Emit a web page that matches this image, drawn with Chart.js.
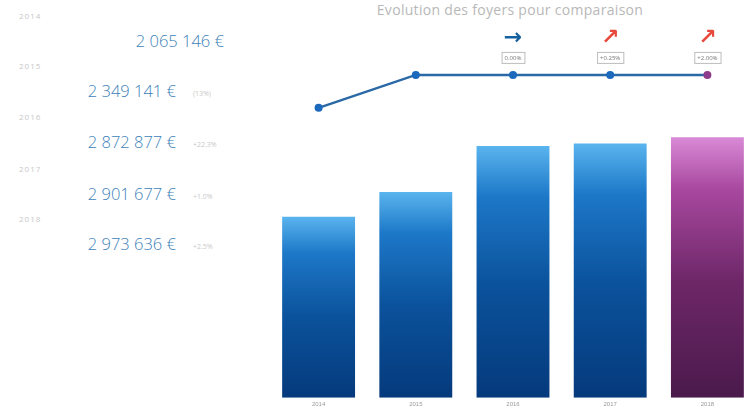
<!DOCTYPE html>
<html>
<head>
<meta charset="utf-8">
<script src="https://cdn.jsdelivr.net/npm/chart.js@4.4.1/dist/chart.umd.min.js"></script>
<style>
  html, body { margin: 0; padding: 0; background: #fff; width: 747px; height: 417px; overflow: hidden; }
  #side { position: absolute; left: 0; top: 0; width: 250px; height: 417px; font-family: "Open Sans", sans-serif; }
  .yr { position: absolute; left: 19px; font-size: 8px; color: #c8c8c8; letter-spacing: 1px; }
  .amt { position: absolute; font-size: 16.5px; font-weight: 300; color: #3d7fb8; white-space: nowrap; }
  .pct { position: absolute; left: 193px; font-size: 7px; color: #c8c8c8; }
  #title { position: absolute; left: 300px; width: 420px; top: 0px; text-align: center; font-family: "Open Sans", sans-serif; font-size: 14px; color: #b8b8b8; letter-spacing: 0.3px; }
  #wrap { position: absolute; left: 262px; top: 0; width: 500px; height: 417px; }
</style>
</head>
<body>
<div id="side"></div>
<div id="title">Evolution des foyers pour comparaison</div>
<div id="wrap"><canvas id="chart" width="500" height="417"></canvas></div>
<script>
// montants annuels et evolution des foyers
const years = ['2014', '2015', '2016', '2017', '2018'];
const montants = [2065146, 2349141, 2872877, 2901677, 2973636];
const montantLabels = ['2 065 146 €', '2 349 141 €', '2 872 877 €', '2 901 677 €', '2 973 636 €'];
const montantEvol = ['', '(13%)', '+22.3%', '+1.0%', '+2.5%'];
const foyers = [898, 1000, 1000, 1000, 1000];
const foyersEvol = ['', '', '0.00%', '+0.25%', '+2.00%'];
const foyersArrows = ['', '', '→', '↗', '↗'];

// left column: year, amount, change
const side = document.getElementById('side');
const rowTops = [10, 60, 111, 163, 213];
years.forEach((y, i) => {
  const top = rowTops[i];
  const right = montantEvol[i] ? 74 : 26;
  side.insertAdjacentHTML('beforeend',
    `<div class="yr" style="top:${top}px">${y}</div>` +
    `<div class="amt" style="top:${top + 19}px; right:${right}px">${montantLabels[i]}</div>` +
    (montantEvol[i] ? `<div class="pct" style="top:${top + 29}px">${montantEvol[i]}</div>` : ''));
});

// per-bar gradient, light at the top, dark at the bottom
function barGradient(context) {
  const chart = context.chart;
  const { ctx, chartArea, scales } = chart;
  if (!chartArea || context.type !== 'data') return '#1a5fa8';
  const value = context.raw;
  const top = scales.y.getPixelForValue(value);
  const bottom = scales.y.getPixelForValue(0);
  const g = ctx.createLinearGradient(0, top, 0, bottom);
  if (context.dataIndex === years.length - 1) {
    g.addColorStop(0, '#d98ad6');
    g.addColorStop(0.2, '#a8489f');
    g.addColorStop(0.55, '#6e2768');
    g.addColorStop(1, '#4a1a4c');
  } else {
    g.addColorStop(0, '#5ab4ee');
    g.addColorStop(0.2, '#1d78c8');
    g.addColorStop(0.55, '#0b529c');
    g.addColorStop(1, '#053a7c');
  }
  return g;
}

// arrows and boxed change labels above the line points
const evolPlugin = {
  id: 'evolPlugin',
  afterDatasetsDraw(chart) {
    const { ctx } = chart;
    const meta = chart.getDatasetMeta(0);
    meta.data.forEach((pt, i) => {
      if (!foyersEvol[i]) return;
      const x = pt.x, y = pt.y;
      ctx.save();
      ctx.font = '6px "Open Sans", sans-serif';
      const w = ctx.measureText(foyersEvol[i]).width + 6;
      ctx.fillStyle = '#fff';
      ctx.strokeStyle = '#bdbdbd';
      ctx.lineWidth = 1;
      ctx.fillRect(x - w / 2, y - 23, w, 11);
      ctx.strokeRect(x - w / 2 + 0.5, y - 23 + 0.5, w, 11);
      ctx.fillStyle = '#777';
      ctx.textAlign = 'center';
      ctx.textBaseline = 'middle';
      ctx.fillText(foyersEvol[i], x, y - 17);
      ctx.font = 'bold 22px "DejaVu Sans", sans-serif';
      ctx.fillStyle = foyersArrows[i] === '→' ? '#15609e' : '#e8493d';
      ctx.fillText(foyersArrows[i], x, y - 37);
      ctx.restore();
    });
  }
};

const ctx = document.getElementById('chart').getContext('2d');
new Chart(ctx, {
  data: {
    labels: years,
    datasets: [
      {
        type: 'line',
        label: 'Foyers',
        data: foyers,
        yAxisID: 'y1',
        borderColor: '#2b69a6',
        borderWidth: 2.5,
        pointRadius: 4,
        pointBorderWidth: 0,
        pointBackgroundColor: ['#1b69bd', '#1b69bd', '#1b69bd', '#1b69bd', '#8d3c8c'],
        tension: 0,
        order: 0,
      },
      {
        type: 'bar',
        label: 'Montant',
        data: montants,
        yAxisID: 'y',
        backgroundColor: barGradient,
        barPercentage: 0.75,
        categoryPercentage: 1,
        order: 1,
      },
    ],
  },
  options: {
    responsive: false,
    animation: false,
    devicePixelRatio: 1,
    layout: { padding: { top: 21, left: 8, right: 6, bottom: 6 } },
    plugins: {
      legend: { display: false },
      tooltip: { enabled: false },
    },
    scales: {
      x: {
        grid: { display: false, drawTicks: false },
        border: { display: false },
        ticks: { color: '#9a9a9a', font: { size: 6 }, padding: 3 },
      },
      y: { display: false, min: 0, max: 4300000 },
      y1: { display: false, min: 0, max: 1167 },
    },
  },
  plugins: [evolPlugin],
});
</script>
</body>
</html>
